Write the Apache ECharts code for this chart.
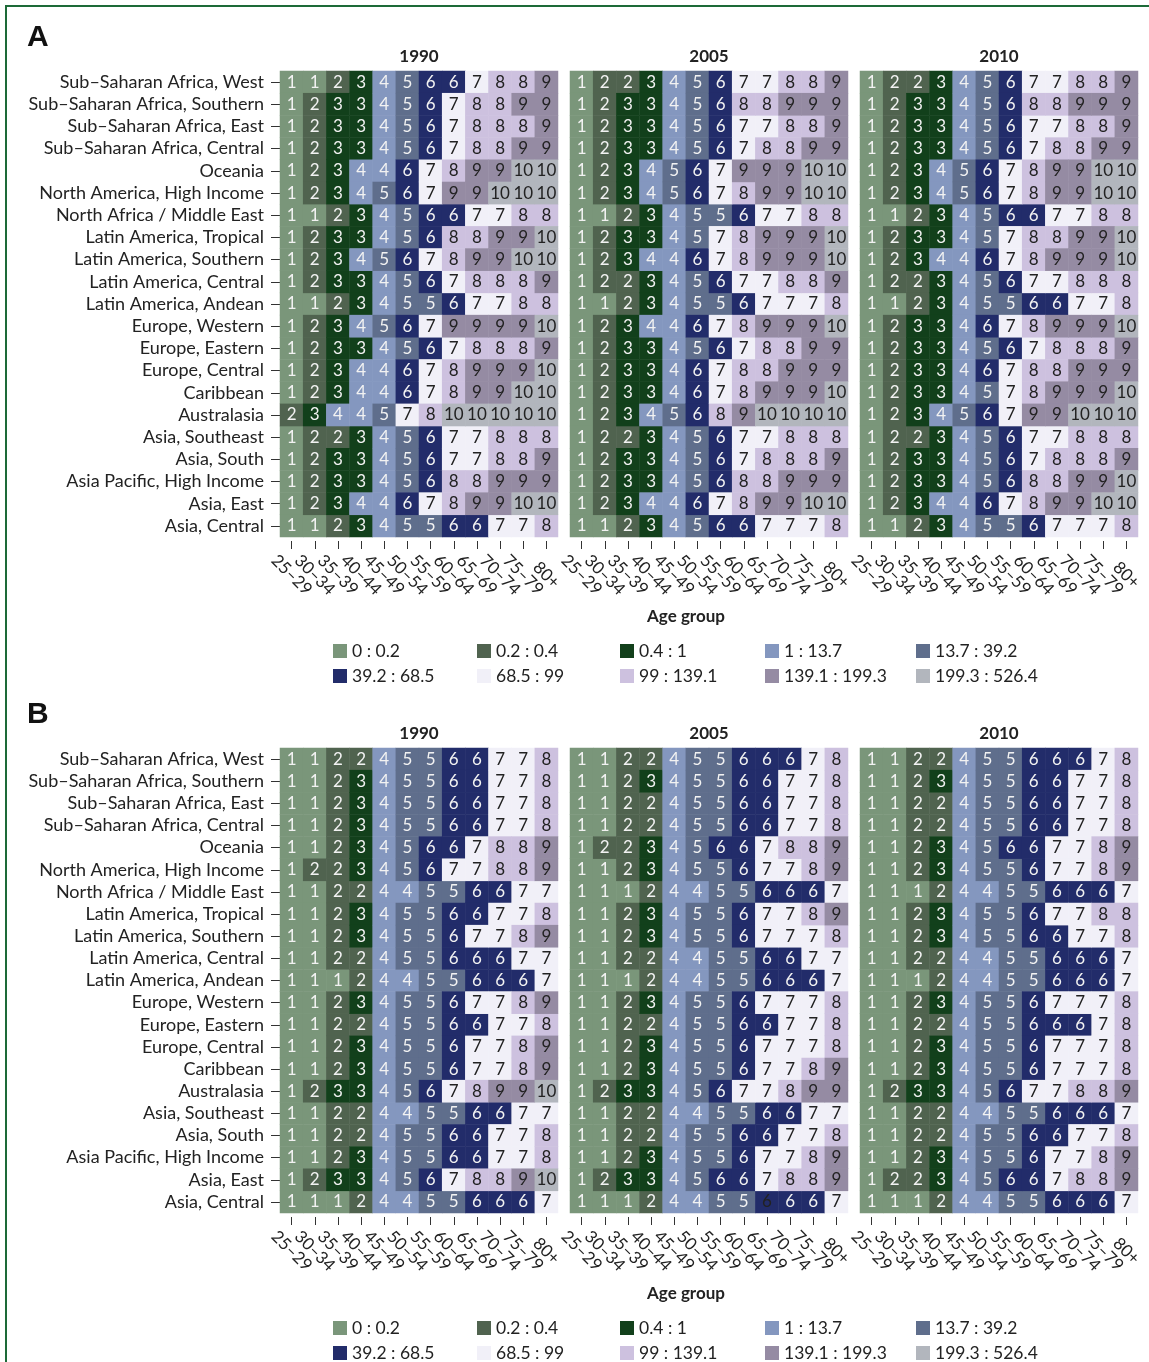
<!DOCTYPE html>
<html>
<head>
<meta charset="utf-8">
<script src="https://cdn.jsdelivr.net/npm/echarts@6/dist/echarts.min.js"></script>
<style>
  html, body { margin: 0; padding: 0; background: #fff; overflow: hidden; }
  #chart { width: 1149px; height: 1400px; }
  #frame { position: absolute; left: 5px; top: 5px; width: 1300px; height: 1500px;
           border: 2px solid #1d6a38; pointer-events: none; }
</style>
</head>
<body>
<div id="chart"></div>
<div id="frame"></div>
<script>
// ---- data ----------------------------------------------------------------
const regions = [
  'Sub–Saharan Africa, West', 'Sub–Saharan Africa, Southern', 'Sub–Saharan Africa, East',
  'Sub–Saharan Africa, Central', 'Oceania', 'North America, High Income',
  'North Africa / Middle East', 'Latin America, Tropical', 'Latin America, Southern',
  'Latin America, Central', 'Latin America, Andean', 'Europe, Western', 'Europe, Eastern',
  'Europe, Central', 'Caribbean', 'Australasia', 'Asia, Southeast', 'Asia, South',
  'Asia Pacific, High Income', 'Asia, East', 'Asia, Central'
];
const ageGroups = ['25–29', '30–34', '35–39', '40–44', '45–49', '50–54',
                   '55–59', '60–64', '65–69', '70–74', '75–79', '80+'];
const years = ['1990', '2005', '2010'];
const classLabels = ['0 : 0.2', '0.2 : 0.4', '0.4 : 1', '1 : 13.7', '13.7 : 39.2',
                     '39.2 : 68.5', '68.5 : 99', '99 : 139.1', '139.1 : 199.3', '199.3 : 526.4'];
const classColors = ['#7a967a', '#50634f', '#12401b', '#8497bf', '#5f6e8c',
                     '#222c6a', '#f1f0f8', '#cdc1df', '#958ba3', '#b2b6bd'];

// class index (1–10) per region (rows) and age group (columns)
const classesA1990 = [
  [1,1,2,3,4,5,6,6,7,8,8,9],   [1,2,3,3,4,5,6,7,8,8,9,9],   [1,2,3,3,4,5,6,7,8,8,8,9],
  [1,2,3,3,4,5,6,7,8,8,9,9],   [1,2,3,4,4,6,7,8,9,9,10,10], [1,2,3,4,5,6,7,9,9,10,10,10],
  [1,1,2,3,4,5,6,6,7,7,8,8],   [1,2,3,3,4,5,6,8,8,9,9,10],  [1,2,3,4,5,6,7,8,9,9,10,10],
  [1,2,3,3,4,5,6,7,8,8,8,9],   [1,1,2,3,4,5,5,6,7,7,8,8],   [1,2,3,4,5,6,7,9,9,9,9,10],
  [1,2,3,3,4,5,6,7,8,8,8,9],   [1,2,3,4,4,6,7,8,9,9,9,10],  [1,2,3,4,4,6,7,8,9,9,10,10],
  [2,3,4,4,5,7,8,10,10,10,10,10], [1,2,2,3,4,5,6,7,7,8,8,8], [1,2,3,3,4,5,6,7,7,8,8,9],
  [1,2,3,3,4,5,6,8,8,9,9,9],   [1,2,3,4,4,6,7,8,9,9,10,10], [1,1,2,3,4,5,5,6,6,7,7,8]
];
const classesA2005 = [
  [1,2,2,3,4,5,6,7,7,8,8,9],   [1,2,3,3,4,5,6,8,8,9,9,9],   [1,2,3,3,4,5,6,7,7,8,8,9],
  [1,2,3,3,4,5,6,7,8,8,9,9],   [1,2,3,4,5,6,7,9,9,9,10,10], [1,2,3,4,5,6,7,8,9,9,10,10],
  [1,1,2,3,4,5,5,6,7,7,8,8],   [1,2,3,3,4,5,7,8,9,9,9,10],  [1,2,3,4,4,6,7,8,9,9,9,10],
  [1,2,2,3,4,5,6,7,7,8,8,9],   [1,1,2,3,4,5,5,6,7,7,7,8],   [1,2,3,4,4,6,7,8,9,9,9,10],
  [1,2,3,3,4,5,6,7,8,8,9,9],   [1,2,3,3,4,6,7,8,8,9,9,9],   [1,2,3,3,4,6,7,8,9,9,9,10],
  [1,2,3,4,5,6,8,9,10,10,10,10], [1,2,2,3,4,5,6,7,7,8,8,8], [1,2,3,3,4,5,6,7,8,8,8,9],
  [1,2,3,3,4,5,6,8,8,9,9,9],   [1,2,3,4,4,6,7,8,9,9,10,10], [1,1,2,3,4,5,6,6,7,7,7,8]
];
const classesA2010 = [
  [1,2,2,3,4,5,6,7,7,8,8,9],   [1,2,3,3,4,5,6,8,8,9,9,9],   [1,2,3,3,4,5,6,7,7,8,8,9],
  [1,2,3,3,4,5,6,7,8,8,9,9],   [1,2,3,4,5,6,7,8,9,9,10,10], [1,2,3,4,5,6,7,8,9,9,10,10],
  [1,1,2,3,4,5,6,6,7,7,8,8],   [1,2,3,3,4,5,7,8,8,9,9,10],  [1,2,3,4,4,6,7,8,9,9,9,10],
  [1,2,2,3,4,5,6,7,7,8,8,8],   [1,1,2,3,4,5,5,6,6,7,7,8],   [1,2,3,3,4,6,7,8,9,9,9,10],
  [1,2,3,3,4,5,6,7,8,8,8,9],   [1,2,3,3,4,6,7,8,8,9,9,9],   [1,2,3,3,4,5,7,8,9,9,9,10],
  [1,2,3,4,5,6,7,9,9,10,10,10], [1,2,2,3,4,5,6,7,7,8,8,8],  [1,2,3,3,4,5,6,7,8,8,8,9],
  [1,2,3,3,4,5,6,8,8,9,9,10],  [1,2,3,4,4,6,7,8,9,9,10,10], [1,1,2,3,4,5,5,6,7,7,7,8]
];
const classesB1990 = [
  [1,1,2,2,4,5,5,6,6,7,7,8],   [1,1,2,3,4,5,5,6,6,7,7,8],   [1,1,2,3,4,5,5,6,6,7,7,8],
  [1,1,2,3,4,5,5,6,6,7,7,8],   [1,1,2,3,4,5,6,6,7,8,8,9],   [1,2,2,3,4,5,6,7,7,8,8,9],
  [1,1,2,2,4,4,5,5,6,6,7,7],   [1,1,2,3,4,5,5,6,6,7,7,8],   [1,1,2,3,4,5,5,6,7,7,8,9],
  [1,1,2,2,4,5,5,6,6,6,7,7],   [1,1,1,2,4,4,5,5,6,6,6,7],   [1,1,2,3,4,5,5,6,7,7,8,9],
  [1,1,2,2,4,5,5,6,6,7,7,8],   [1,1,2,3,4,5,5,6,7,7,8,9],   [1,1,2,3,4,5,5,6,7,7,8,9],
  [1,2,3,3,4,5,6,7,8,9,9,10],  [1,1,2,2,4,4,5,5,6,6,7,7],   [1,1,2,2,4,5,5,6,6,7,7,8],
  [1,1,2,3,4,5,5,6,6,7,7,8],   [1,2,3,3,4,5,6,7,8,8,9,10],  [1,1,1,2,4,4,5,5,6,6,6,7]
];
const classesB2005 = [
  [1,1,2,2,4,5,5,6,6,6,7,8],   [1,1,2,3,4,5,5,6,6,7,7,8],   [1,1,2,2,4,5,5,6,6,7,7,8],
  [1,1,2,2,4,5,5,6,6,7,7,8],   [1,2,2,3,4,5,6,6,7,8,8,9],   [1,1,2,3,4,5,5,6,7,7,8,9],
  [1,1,1,2,4,4,5,5,6,6,6,7],   [1,1,2,3,4,5,5,6,7,7,8,9],   [1,1,2,3,4,5,5,6,7,7,7,8],
  [1,1,2,2,4,4,5,5,6,6,7,7],   [1,1,1,2,4,4,5,5,6,6,6,7],   [1,1,2,3,4,5,5,6,7,7,7,8],
  [1,1,2,2,4,5,5,6,6,7,7,8],   [1,1,2,3,4,5,5,6,7,7,7,8],   [1,1,2,3,4,5,5,6,7,7,8,9],
  [1,2,3,3,4,5,6,7,7,8,9,9],   [1,1,2,2,4,4,5,5,6,6,7,7],   [1,1,2,2,4,5,5,6,6,7,7,8],
  [1,1,2,3,4,5,5,6,7,7,8,9],   [1,2,3,3,4,5,6,6,7,8,8,9],   [1,1,1,2,4,4,5,5,6,6,6,7]
];
const classesB2010 = [
  [1,1,2,2,4,5,5,6,6,6,7,8],   [1,1,2,3,4,5,5,6,6,7,7,8],   [1,1,2,2,4,5,5,6,6,7,7,8],
  [1,1,2,2,4,5,5,6,6,7,7,8],   [1,1,2,3,4,5,6,6,7,7,8,9],   [1,1,2,3,4,5,5,6,7,7,8,9],
  [1,1,1,2,4,4,5,5,6,6,6,7],   [1,1,2,3,4,5,5,6,7,7,8,8],   [1,1,2,3,4,5,5,6,6,7,7,8],
  [1,1,2,2,4,4,5,5,6,6,6,7],   [1,1,1,2,4,4,5,5,6,6,6,7],   [1,1,2,3,4,5,5,6,7,7,7,8],
  [1,1,2,2,4,5,5,6,6,6,7,8],   [1,1,2,3,4,5,5,6,7,7,7,8],   [1,1,2,3,4,5,5,6,7,7,7,8],
  [1,2,3,3,4,5,6,7,7,8,8,9],   [1,1,2,2,4,4,5,5,6,6,6,7],   [1,1,2,2,4,5,5,6,6,7,7,8],
  [1,1,2,3,4,5,5,6,7,7,8,9],   [1,2,2,3,4,5,6,6,7,8,8,9],   [1,1,1,2,4,4,5,5,6,6,6,7]
];
// cells whose number is printed in dark ink
const darkLabelCells = [
  { panel: 'A', year: '2010', region: 'Europe, Eastern', age: '60–64' },
  { panel: 'B', year: '2005', region: 'Asia, Central', age: '65–69' }
];

// ---- layout ----------------------------------------------------------------
const FONT = 'Lato, "Liberation Sans", sans-serif';
const TEXT = '#222222';
const panels = [
  { key: 'A', top: 71,  height: 466, titleTop: 48,  axisNameTop: 608,  legendTop: 642,
    matrices: [classesA1990, classesA2005, classesA2010] },
  { key: 'B', top: 748, height: 465, titleTop: 725, axisNameTop: 1285, legendTop: 1319,
    matrices: [classesB1990, classesB2005, classesB2010] }
];
const gridLefts = [280, 570, 860];
const gridWidth = 278;
const legendLefts = [333, 477, 620, 765, 916];

const grid = [], xAxis = [], yAxis = [], series = [], title = [], legend = [];

panels.forEach((p, pi) => {
  title.push({ text: p.key, left: 27, top: p.top - 48, padding: 0,
               textStyle: { fontSize: 30, fontWeight: 'bold', color: '#111',
                            fontFamily: '"Liberation Sans", Arial, sans-serif' } });
  title.push({ text: 'Age group', left: 686, top: p.axisNameTop, textAlign: 'center', padding: 0,
               textStyle: { fontSize: 17, fontWeight: 'bold', color: TEXT, fontFamily: FONT } });

  years.forEach((yr, yi) => {
    const k = pi * 3 + yi;
    grid.push({ left: gridLefts[yi], top: p.top, width: gridWidth, height: p.height });
    title.push({ text: yr, left: gridLefts[yi] + gridWidth / 2, top: p.titleTop,
                 textAlign: 'center', padding: 0,
                 textStyle: { fontSize: 17, fontWeight: 'bold', color: TEXT, fontFamily: FONT } });
    xAxis.push({
      type: 'category', gridIndex: k, data: ageGroups, position: 'bottom', offset: 4,
      axisLine: { show: false },
      axisTick: { show: true, alignWithLabel: true, length: 8, lineStyle: { color: '#333' } },
      axisLabel: { interval: 0, rotate: -45, align: 'center', verticalAlign: 'middle',
                   margin: 34, fontSize: 17, color: TEXT, fontFamily: FONT },
      splitLine: { show: false }
    });
    yAxis.push({
      type: 'category', gridIndex: k, data: regions, inverse: true,
      axisLine: { show: false },
      axisTick: { show: yi === 0, alignWithLabel: true, length: 9, lineStyle: { color: '#333' } },
      axisLabel: { show: yi === 0, interval: 0, margin: 16, fontSize: 18, color: TEXT, fontFamily: FONT },
      splitLine: { show: false }
    });

    const m = p.matrices[yi];
    classLabels.forEach((name, ci) => {
      const cls = ci + 1;
      const data = [];
      m.forEach((row, ri) => row.forEach((v, ai) => {
        if (v !== cls) return;
        const item = { value: [ai, ri, v] };
        const dark = darkLabelCells.some(d => d.panel === p.key && d.year === yr &&
                                              d.region === regions[ri] && d.age === ageGroups[ai]);
        if (dark) item.label = { color: TEXT };
        data.push(item);
      }));
      series.push({
        type: 'heatmap', name: name, xAxisIndex: k, yAxisIndex: k, data: data,
        itemStyle: { color: classColors[ci] },
        label: { show: true, formatter: o => String(o.value[2]), fontSize: 17,
                 color: cls <= 6 ? '#f2f2f2' : TEXT, fontFamily: FONT },
        emphasis: { disabled: true }
      });
    });
  });

  legendLefts.forEach((lx, c) => {
    legend.push({
      left: lx, top: p.legendTop, orient: 'vertical', icon: 'rect', padding: 0,
      itemWidth: 14, itemHeight: 14, itemGap: 7, selectedMode: false,
      data: [classLabels[c], classLabels[c + 5]],
      textStyle: { fontSize: 17.5, color: TEXT, fontFamily: FONT }
    });
  });
});

const chart = echarts.init(document.getElementById('chart'), null, { renderer: 'canvas' });
chart.setOption({
  animation: false, backgroundColor: '#fff',
  title, grid, xAxis, yAxis, series, legend
});
</script>
</body>
</html>
